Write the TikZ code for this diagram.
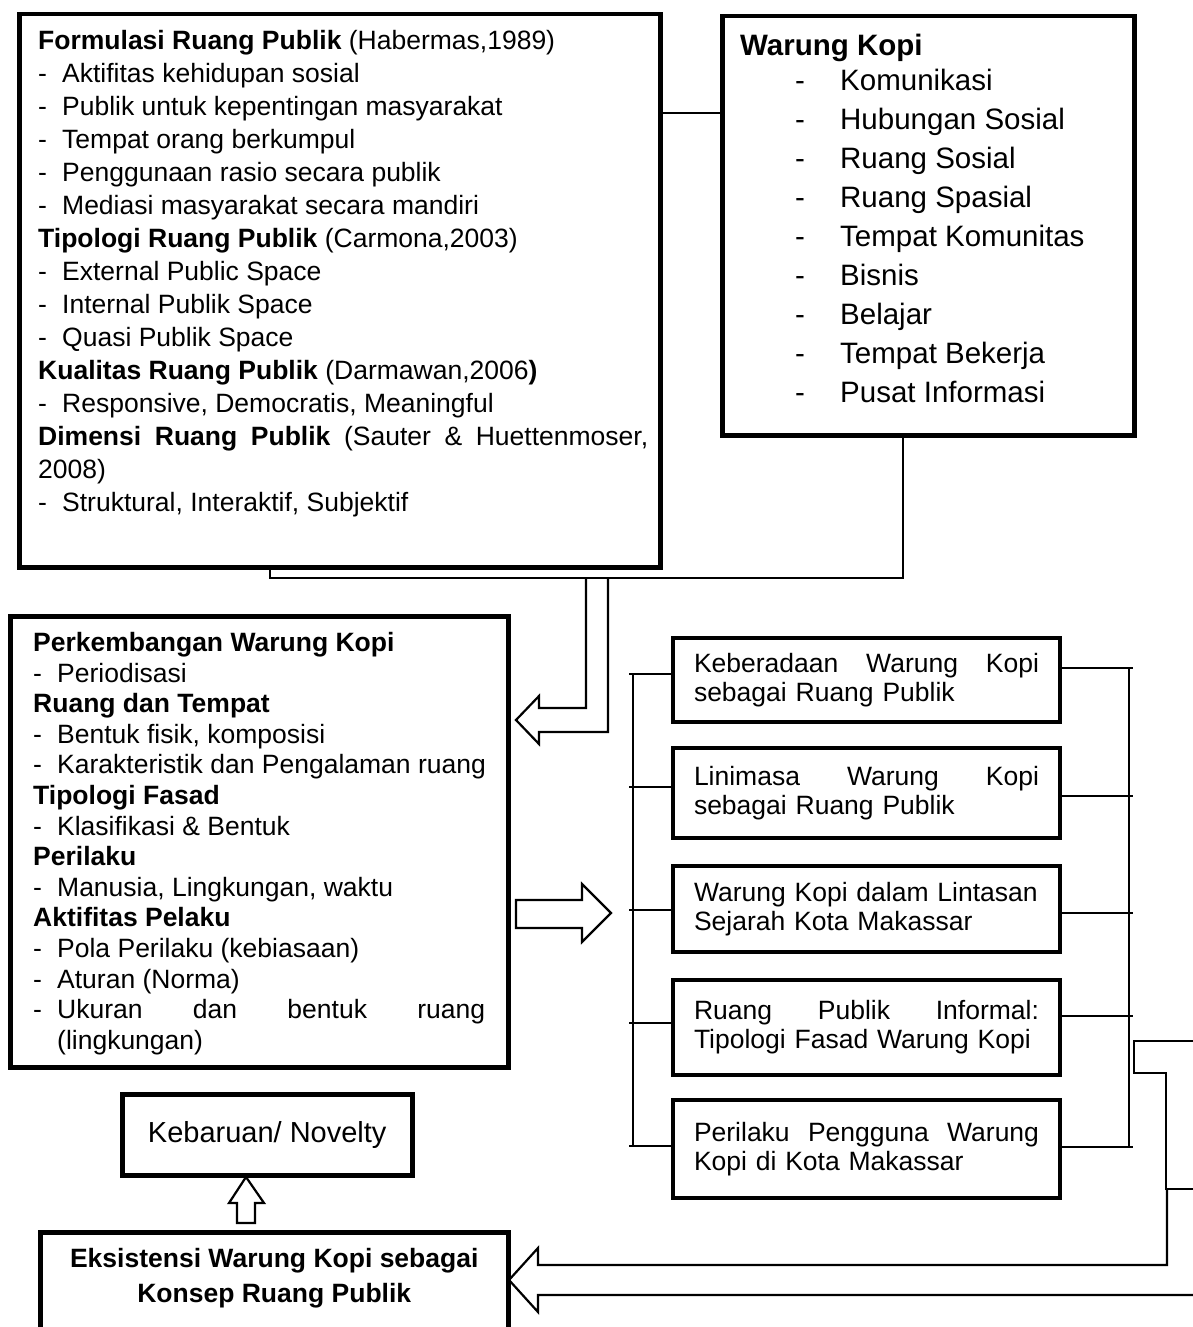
\documentclass[tikz,border=0pt]{standalone}
\usepackage{fontspec}
\setmainfont{Liberation Sans}
\newcommand{\itemdash}[1][24pt]{\makebox[#1][l]{-}}

\begin{document}
\begin{tikzpicture}[x=1pt,y=-1pt, every node/.style={font=\fontsize{26.5pt}{29pt}\selectfont}]
  \tikzset{
    frame/.style={draw, line width=4.5pt, inner sep=0pt},
    txtrow/.style={anchor=base west, inner sep=0pt},
    link/.style={line width=2.4pt},
    hollow/.style={draw, line width=2.2pt, line join=miter},
  }
  \useasboundingbox (0,0) rectangle (1192,1327);
  % the three theory boxes
  \node[frame, anchor=north west, minimum width=641pt, minimum height=553pt] (formulasi) at (17,12) {};
  \node[frame, anchor=north west, minimum width=412pt, minimum height=419pt] (warung) at (720,14) {};
  \node[frame, anchor=north west, minimum width=498pt, minimum height=451pt] (kembang) at (8,614) {};
  \foreach \i/\txt in {
    0/{\textbf{Formulasi Ruang Publik} (Habermas,1989)},
    1/{\itemdash Aktifitas kehidupan sosial},
    2/{\itemdash Publik untuk kepentingan masyarakat},
    3/{\itemdash Tempat orang berkumpul},
    4/{\itemdash Penggunaan rasio secara publik},
    5/{\itemdash Mediasi masyarakat secara mandiri},
    6/{\textbf{Tipologi Ruang Publik} (Carmona,2003)},
    7/{\itemdash External Public Space},
    8/{\itemdash Internal Publik Space},
    9/{\itemdash Quasi Publik Space},
    10/{\textbf{Kualitas Ruang Publik} (Darmawan,2006\textbf{)}},
    11/{\itemdash Responsive, Democratis, Meaningful},
    12/{\makebox[610pt][s]{\textbf{Dimensi Ruang Publik} (Sauter \& Huettenmoser,}},
    13/{2008)},
    14/{\itemdash Struktural, Interaktif, Subjektif}
  }{
    \node[txtrow] (rp\i) at (38,{49.5+33*\i}) {\txt};
  }
  \node[txtrow, font=\bfseries\fontsize{29.5pt}{33pt}\selectfont] (wk0) at (740,55.5) {Warung Kopi};
  \foreach \i/\txt in {1/Komunikasi, 2/Hubungan Sosial, 3/Ruang Sosial, 4/Ruang Spasial,
    5/Tempat Komunitas, 6/Bisnis, 7/Belajar, 8/Tempat Bekerja, 9/Pusat Informasi}{
    \node[txtrow, font=\fontsize{29.5pt}{33pt}\selectfont] (wk\i) at (795,{51.5+39*\i}) {\itemdash[45pt]\txt};
  }
  \foreach \i/\txt in {
    0/{\textbf{Perkembangan Warung Kopi}},
    1/{\itemdash Periodisasi},
    2/{\textbf{Ruang dan Tempat}},
    3/{\itemdash Bentuk fisik, komposisi},
    4/{\itemdash Karakteristik dan Pengalaman ruang},
    5/{\textbf{Tipologi Fasad}},
    6/{\itemdash Klasifikasi \& Bentuk},
    7/{\textbf{Perilaku}},
    8/{\itemdash Manusia, Lingkungan, waktu},
    9/{\textbf{Aktifitas Pelaku}},
    10/{\itemdash Pola Perilaku (kebiasaan)},
    11/{\itemdash Aturan (Norma)},
    12/{\itemdash\makebox[428pt][s]{Ukuran dan bentuk ruang}},
    13/{\hspace*{24pt}(lingkungan)}
  }{
    \node[txtrow] (pw\i) at (33,{651.5+30.6*\i}) {\txt};
  }
  % findings
  \foreach \i/\yc/\bh/\lineA/\lineB in {
    1/680/84/{Keberadaan\hfill Warung\hfill Kopi}/{sebagai Ruang Publik},
    2/793/90/{Linimasa\hfill Warung\hfill Kopi}/{sebagai Ruang Publik},
    3/909/86/{Warung Kopi dalam Lintasan}/{Sejarah Kota Makassar},
    4/1027.5/95/{Ruang\hfill Publik\hfill Informal:}/{Tipologi Fasad Warung Kopi},
    5/1149/98/{Perilaku\hfill Pengguna\hfill Warung}/{Kopi di Kota Makassar}
  }{
    \node[frame, minimum width=387pt, minimum height=\bh pt, text width=345pt, align=left, inner xsep=21pt] (d\i) at (866.5,\yc) {\hbox to 345pt{\lineA}\\\lineB};
  }
  \node[frame, anchor=north west, minimum width=290pt, minimum height=81pt, font=\fontsize{29pt}{33pt}\selectfont] (novelty) at (120,1092) {Kebaruan/ Novelty};
  \node[frame, anchor=north west, minimum width=468pt, minimum height=130pt] (eksistensi) at (38,1230) {};
  \node[font=\bfseries\fontsize{26.5pt}{35pt}\selectfont, align=center, inner sep=0pt] (ekstxt) at (eksistensi.north |- 0,1278) {Eksistensi Warung Kopi sebagai\\Konsep Ruang Publik};
  % connectors
  \coordinate (merge) at (597,578);
  \coordinate (lbar) at (633,0);
  \coordinate (rbar) at (1129,0);
  \draw[link] (formulasi.east |- 0,113) -- (warung.west |- 0,113);
  \draw[link] (formulasi.south -| 270,0) |- (merge) -| (warung.south -| 903,0);
  \draw[link] (lbar |- d1.west) ++(0,-6) -- (lbar |- 0,1146);
  \draw[link] (rbar |- 0,668) -- (rbar |- 0,1147);
  \foreach \i/\yl/\yr in {1/674/668, 2/787/796, 3/910/913, 4/1023/1016, 5/1146/1147}{
    \draw[link] (lbar |- 0,\yl) ++(-4,0) -- (d\i.west |- 0,\yl);
    \draw[link] (d\i.east |- 0,\yr) -- (rbar |- 0,\yr) -- ++(4,0);
  }
  % hollow arrows
  \draw[hollow] (586,578) -- (586,708) -- (539,708) -- (539,696) -- (516,720) -- (539,744) -- (539,732) -- (608,732) -- (608,578);
  \draw[hollow] (516,900) -- (582,900) -- (582,884) -- (611,913) -- (582,942) -- (582,928) -- (516,928) -- cycle;
  \draw[hollow] (237,1223) -- (237,1203) -- (229,1203) -- (246,1177) -- (264,1203) -- (255,1203) -- (255,1223) -- cycle;
  \draw[hollow] (1200,1041) -- (1134,1041) -- (1134,1073) -- (1166,1073) -- (1166,1189) -- (1200,1189);
  \draw[hollow] (1167,1189) -- (1167,1265) -- (538,1265) -- (538,1248) -- (509,1280) -- (538,1312) -- (538,1295) -- (1200,1295);
\end{tikzpicture}
\end{document}
